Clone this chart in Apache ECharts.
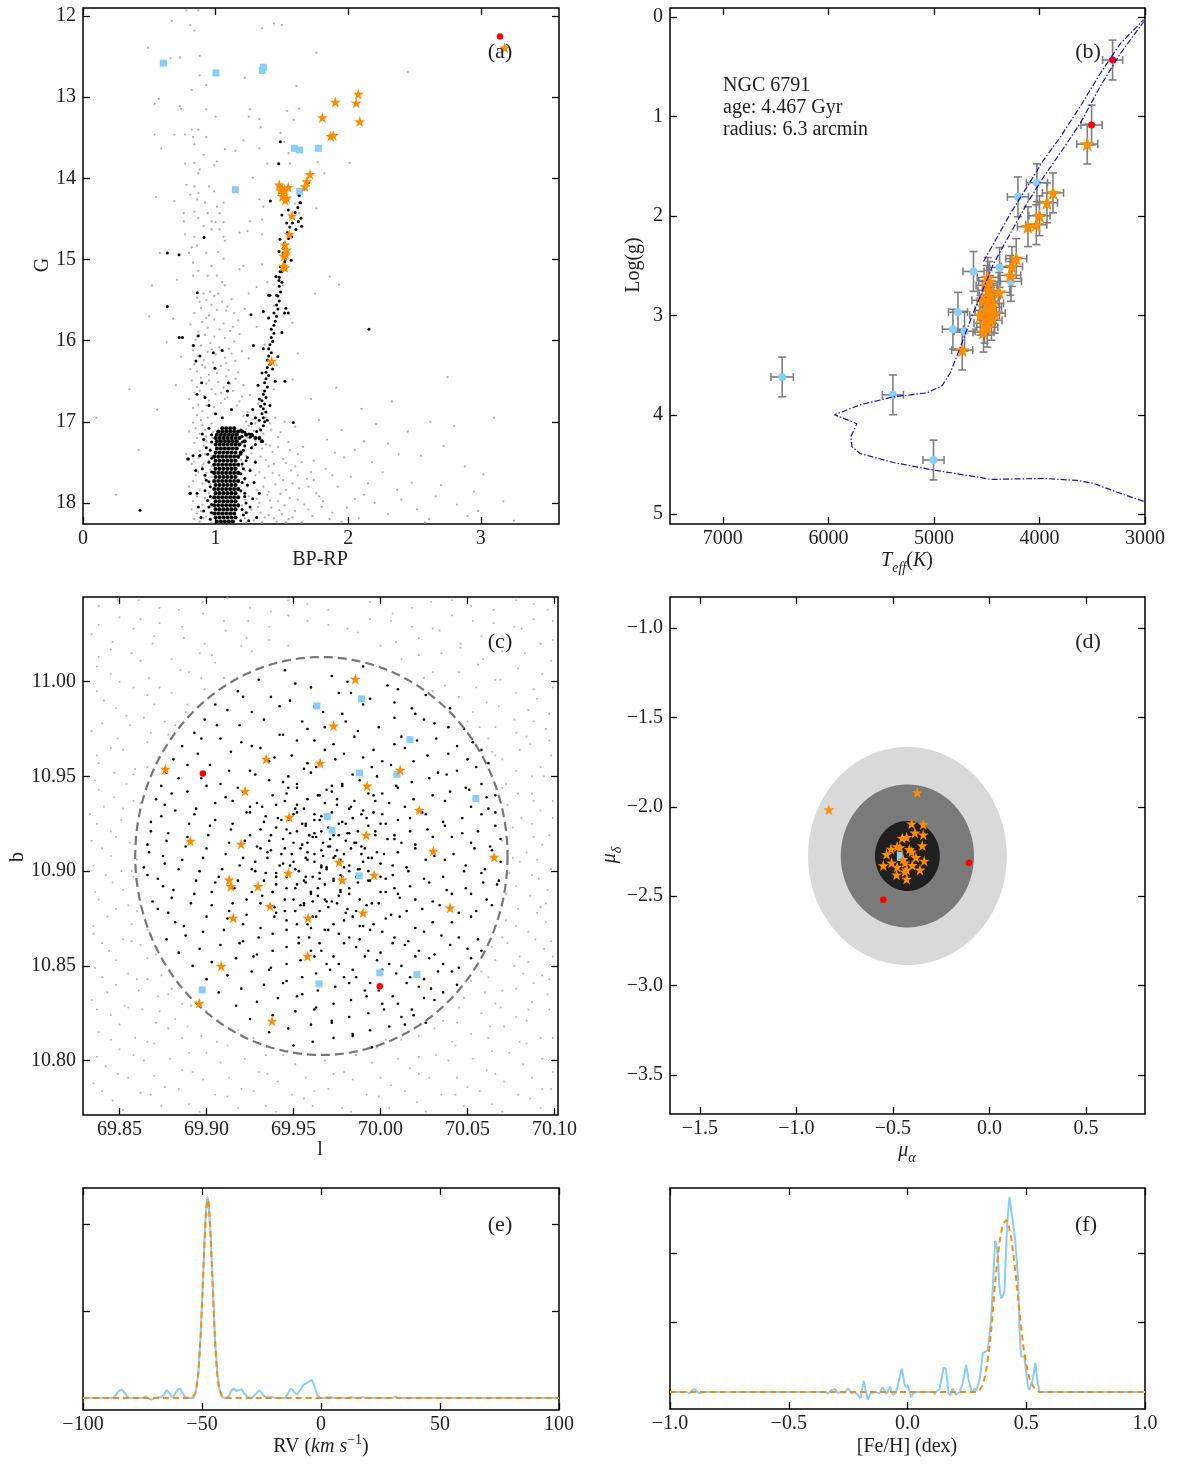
<!DOCTYPE html>
<html><head><meta charset="utf-8">
<script src="https://cdn.jsdelivr.net/npm/echarts/dist/echarts.min.js"></script>
<style>html,body{margin:0;padding:0;background:#fff;}#chart{width:1177px;height:1467px;}</style>
</head><body><div id="chart"></div>
<script>
// ================= DATA =================
// (a) colour-magnitude diagram: field stars (flat x,G pairs)
const cmdField = [
0.78,11.93,0.87,11.93,0.67,12.06,0.81,12.11,0.84,12.18,1.35,12.15,1.44,12.09,1.50,12.11,0.49,12.39,0.88,12.49,0.73,12.51,0.66,12.52,1.76,12.45,0.93,12.85,0.88,12.73,1.22,12.76,1.61,12.86,2.45,12.69,0.82,12.91,0.57,13.02,0.54,13.08,0.73,13.11,0.74,13.14,0.93,13.15,1.26,13.15,1.54,13.17,1.63,13.14,1.00,13.24,1.25,13.24,1.33,13.27,1.59,13.28,1.34,13.37,0.87,13.40,0.54,13.46,0.69,13.46,0.77,13.46,0.83,13.49,0.93,13.49,0.82,13.40,1.21,13.53,1.49,13.44,1.52,13.55,0.59,13.63,0.84,13.58,1.07,13.64,1.15,13.66,1.33,13.63,1.55,13.69,0.91,13.71,0.84,13.81,0.77,13.82,0.88,13.89,1.01,13.79,0.99,13.84,0.87,13.94,1.28,13.99,1.39,13.82,1.56,13.82,1.77,13.80,2.01,13.81,1.82,13.94,0.78,14.08,0.84,14.10,0.95,14.10,0.99,14.16,0.87,14.18,0.81,14.20,0.55,14.23,0.69,14.28,0.86,14.26,0.92,14.30,1.06,14.30,1.01,14.35,1.33,14.26,1.36,14.35,1.60,14.31,1.76,14.37,0.76,14.43,0.84,14.41,0.94,14.43,1.03,14.43,0.87,14.49,0.76,14.53,0.97,14.53,1.00,14.54,1.06,14.54,1.26,14.53,1.35,14.51,1.63,14.43,0.91,14.59,0.97,14.63,1.03,14.63,0.77,14.69,0.84,14.72,1.06,14.72,1.07,14.77,1.18,14.67,1.24,14.65,1.35,14.69,0.82,14.85,0.86,14.83,0.58,14.92,0.80,14.92,0.93,14.92,1.02,14.91,1.06,14.99,1.21,15.08,1.18,15.12,1.35,15.06,0.83,15.04,0.87,15.14,0.97,15.08,1.01,15.20,0.94,15.20,0.83,15.20,0.71,15.25,0.52,15.32,1.05,15.28,1.07,15.32,1.39,15.28,1.51,15.32,1.31,15.34,1.86,15.21,1.93,15.31,0.91,15.42,0.96,15.40,1.02,15.42,1.25,15.42,1.75,15.42,
0.86,15.47,0.93,15.50,1.05,15.52,1.12,15.49,0.97,15.56,0.89,15.60,1.01,15.62,1.09,15.58,0.84,15.66,0.95,15.69,1.14,15.66,1.22,15.61,1.44,15.57,0.99,15.74,0.90,15.77,1.06,15.79,0.81,15.80,1.17,15.75,0.94,15.84,1.03,15.86,1.11,15.88,0.87,15.89,1.31,15.83,1.58,15.78,0.68,15.73,0.50,15.70,
0.92,15.93,0.99,15.95,1.07,15.97,0.85,15.99,1.14,16.01,0.96,16.03,0.89,16.06,1.03,16.08,1.10,16.10,0.83,16.12,0.94,16.14,1.20,16.13,1.00,16.17,0.87,16.19,1.07,16.21,0.91,16.24,1.15,16.25,0.98,16.27,0.84,16.29,1.04,16.31,1.25,16.22,1.37,16.05,1.46,16.30,1.62,16.16,0.74,16.20,0.63,16.02,0.92,16.33,1.10,16.36,0.86,16.38,1.01,16.40,
0.95,16.42,1.08,16.44,0.89,16.46,1.15,16.47,0.82,16.49,1.02,16.51,0.93,16.53,1.21,16.55,0.86,16.57,1.06,16.58,0.97,16.60,1.13,16.62,0.84,16.64,1.00,16.66,0.91,16.68,1.26,16.67,1.09,16.70,0.80,16.72,0.95,16.74,1.18,16.75,1.04,16.77,0.87,16.79,1.32,16.78,1.44,16.60,1.58,16.48,1.72,16.72,1.91,16.58,2.10,16.84,0.70,16.55,0.56,16.85,0.99,16.82,1.12,16.85,0.90,16.87,1.37,16.88,2.33,16.75,
0.86,16.92,0.94,16.95,1.21,16.93,1.28,16.97,1.45,16.95,1.52,17.00,0.83,17.01,0.90,17.04,1.25,17.05,1.33,17.08,1.41,17.02,1.60,17.06,1.78,16.98,1.95,17.10,2.21,17.03,2.45,17.12,2.62,17.00,0.80,17.12,0.88,17.15,0.93,17.18,1.19,17.17,1.24,17.20,1.30,17.23,1.38,17.28,1.47,17.19,1.55,17.25,1.66,17.31,1.84,17.22,2.05,17.35,2.30,17.27,2.72,17.30,0.84,17.26,0.91,17.30,0.96,17.33,1.21,17.36,1.27,17.39,1.34,17.43,1.43,17.37,1.51,17.46,1.62,17.40,1.74,17.48,1.97,17.44,2.18,17.50,2.55,17.42,2.88,17.55,0.78,17.40,0.87,17.45,0.95,17.48,1.19,17.47,
0.82,17.52,0.90,17.56,0.96,17.59,1.20,17.55,1.26,17.58,1.33,17.62,1.40,17.55,1.48,17.66,1.57,17.60,1.69,17.70,1.83,17.58,2.02,17.68,2.26,17.62,2.48,17.75,3.02,17.65,0.85,17.66,0.92,17.70,0.98,17.74,1.22,17.72,1.29,17.76,1.36,17.80,1.45,17.77,1.53,17.84,1.63,17.82,1.76,17.88,1.92,17.80,2.12,17.90,2.37,17.84,2.66,17.92,2.95,17.86,0.80,17.80,0.88,17.84,0.95,17.88,1.19,17.86,1.25,17.92,1.31,17.95,1.39,17.90,1.47,17.98,1.56,17.94,1.67,18.02,1.81,17.98,1.99,18.06,2.20,18.00,2.52,18.08,2.82,18.02,3.17,17.98,0.83,17.98,0.90,18.02,0.97,18.05,1.20,18.03,1.27,18.08,1.34,18.12,1.42,18.06,1.50,18.14,1.60,18.10,1.73,18.16,1.88,18.12,2.08,18.19,2.30,18.14,2.61,18.20,2.90,18.16,0.86,18.13,0.93,18.17,1.22,18.19,1.29,18.22,1.37,18.18,1.46,18.23,1.55,18.20,1.65,18.24,1.95,18.23,0.88,18.23,0.42,17.35,0.25,17.90,0.10,16.95,0.35,16.60,2.75,16.45,3.10,16.95,2.80,17.05,
0.88,15.52,0.99,15.45,1.08,15.63,0.93,15.72,1.13,15.83,0.86,15.95,1.18,15.92,0.97,16.11,1.12,16.16,0.90,16.30,1.08,16.28,0.81,16.35,1.17,16.39,0.95,16.49,1.11,16.53,0.88,16.62,1.04,16.64,1.20,16.69,0.93,16.80,1.07,16.72,0.83,16.83,1.16,16.80,1.24,16.88,
0.89,16.98,0.97,17.02,1.23,17.00,1.30,17.02,1.38,16.95,0.85,17.08,0.92,17.10,0.98,17.13,1.23,17.09,1.29,17.11,1.36,17.15,1.42,17.10,1.49,17.13,0.86,17.20,0.93,17.24,0.98,17.20,1.22,17.28,1.28,17.30,1.35,17.33,1.41,17.29,1.47,17.31,1.56,17.35,0.88,17.36,0.92,17.40,0.97,17.42,1.23,17.42,1.30,17.48,1.38,17.47,1.44,17.52,1.53,17.51,1.60,17.55,0.84,17.49,0.91,17.52,0.97,17.55,1.22,17.60,1.30,17.66,1.37,17.69,1.43,17.63,1.51,17.72,1.62,17.66,1.72,17.62,0.87,17.62,0.93,17.63,0.97,17.68,1.24,17.80,1.31,17.84,1.40,17.86,1.49,17.89,1.58,17.76,1.70,17.80,0.83,17.73,0.90,17.76,0.96,17.77,1.22,17.96,1.33,18.00,1.41,17.97,1.52,18.03,1.62,17.96,1.78,17.92,0.86,17.92,0.92,17.94,0.97,17.95,1.24,18.12,1.32,18.05,1.40,18.15,1.48,18.09,1.58,18.18,1.70,18.08,0.82,18.08,0.89,18.10,0.96,18.12,1.23,18.24,1.35,18.24,1.44,18.19,1.53,18.24,1.86,18.20,0.84,18.20,0.91,18.19,0.97,18.24,1.74,17.72,1.88,17.66,2.15,17.76,2.40,17.96,2.70,17.78,1.65,17.50,1.90,17.38,2.12,17.24,2.38,17.40,2.98,18.10,3.25,18.22,2.58,18.24,1.80,18.05,2.05,17.95
];
// (a) cluster members outside the dense main-sequence core (flat x,G pairs)
const cmdMembers = [
1.22,17.13,1.25,17.15,1.28,17.17,1.31,17.12,1.34,17.10,1.36,17.05,1.37,17.00,1.36,16.95,1.35,16.90,1.38,16.88,1.36,16.84,1.34,16.81,1.37,16.78,1.35,16.74,1.38,16.70,1.36,16.66,1.37,16.62,1.39,16.57,1.37,16.52,1.38,16.47,1.40,16.43,1.38,16.39,1.39,16.33,1.41,16.29,1.39,16.24,1.40,16.19,1.42,16.15,1.40,16.10,1.41,16.05,1.43,16.01,1.42,15.96,1.44,15.91,1.42,15.86,1.44,15.81,1.45,15.76,1.46,15.70,1.44,15.66,1.47,15.61,1.46,15.56,1.48,15.51,1.47,15.45,1.49,15.40,1.48,15.33,1.50,15.28,1.48,15.22,1.50,15.15,1.49,15.09,1.52,15.03,1.51,14.97,1.53,14.92,1.51,14.86,1.52,14.80,1.55,14.74,1.54,14.67,1.56,14.60,1.58,14.55,1.57,14.48,1.60,14.42,1.62,14.36,1.64,14.30,1.63,14.20,1.67,14.13,1.70,14.05,1.72,13.95,
1.19,17.10,1.26,17.19,1.33,17.21,1.30,16.95,1.27,17.02,1.33,16.98,1.24,16.92,1.28,16.85,1.32,16.55,1.45,16.50,1.43,16.35,1.47,16.20,1.36,16.10,1.50,15.90,1.40,15.72,1.53,15.60,1.35,16.40,1.33,16.72,1.41,16.80,1.39,16.98,
1.488,13.55,1.476,13.82,1.413,14.28,1.63,14.21,1.636,14.30,1.548,14.39,1.50,14.45,1.536,14.55,1.624,14.53,1.644,14.49,1.649,14.59,1.606,14.63,1.574,14.72,0.913,14.73,0.636,14.92,0.724,14.94,1.486,14.75,1.478,14.90,1.51,14.92,1.528,15.00,1.57,15.01,1.486,15.15,1.455,15.21,1.478,15.26,1.41,15.44,1.46,15.44,0.862,15.41,0.636,15.58,0.726,15.96,0.75,15.96,0.832,16.06,0.87,15.94,0.882,16.19,0.983,16.15,1.05,16.12,0.995,16.34,0.852,16.25,0.895,16.52,1.096,16.52,0.86,16.66,1.09,16.62,1.267,15.68,1.285,16.06,1.36,15.64,1.40,15.44,1.548,15.66,1.52,15.66,1.523,16.50,1.586,17.01,2.157,15.86,0.43,18.09,0.794,17.46,0.882,17.42,0.807,17.88,0.95,16.80,1.00,16.90,1.05,16.95,0.92,16.70,1.12,16.85,
0.90,17.15,0.93,17.32,0.95,17.50,0.92,17.66,0.96,17.80,0.94,17.97,0.91,18.10,0.96,18.20,0.88,17.42,0.86,17.88,1.21,17.35,1.20,17.52,1.22,17.70,1.19,17.85,1.23,18.00,1.21,18.15,1.26,17.60,1.28,17.95,1.31,18.18,0.79,17.46,0.81,17.88,0.83,17.42,0.95,17.08,0.97,17.25,0.97,17.62,0.95,17.74,0.97,18.02,1.20,17.25,1.24,17.44,1.19,17.64,1.22,17.92,1.20,18.08,1.25,18.22,
0.91,17.22,0.94,17.40,0.90,17.58,0.93,17.72,0.92,17.85,0.95,18.05,0.89,18.18,1.20,17.18,1.22,17.30,1.23,17.48,1.21,17.58,1.24,17.78,1.22,17.88,1.26,18.05,1.23,18.12,1.29,17.75,1.30,17.50,0.85,17.60,0.87,18.05,1.33,17.88,1.27,17.32,1.30,17.28,0.97,17.16,0.96,17.35,0.97,17.45,0.96,17.92,0.97,18.12,1.19,17.40,1.20,17.75,1.19,18.22
];
// (a) dense main-sequence core: each row = [G, x, x, ...]
const msRows = [
[17.08,1.05,1.08,1.11,1.14],
[17.12,1.02,1.05,1.08,1.11,1.14,1.17,1.20],
[17.16,1.01,1.04,1.07,1.10,1.13,1.16,1.23,1.27],
[17.20,1.00,1.03,1.06,1.09,1.12,1.15,1.18,1.30,1.33],
[17.24,1.01,1.04,1.07,1.10,1.13,1.16,1.22,1.35],
[17.28,1.00,1.03,1.06,1.09,1.12,1.15,1.18],
[17.33,1.01,1.04,1.07,1.10,1.13,1.16],
[17.38,1.00,1.03,1.06,1.09,1.12,1.15,1.19],
[17.43,0.99,1.02,1.05,1.08,1.11,1.14,1.17],
[17.48,1.00,1.03,1.06,1.09,1.12,1.15],
[17.53,0.99,1.02,1.05,1.08,1.11,1.14,1.17],
[17.58,1.00,1.03,1.06,1.09,1.12,1.15],
[17.63,0.99,1.02,1.05,1.08,1.11,1.14,1.17],
[17.68,1.00,1.03,1.06,1.09,1.12,1.15],
[17.73,0.99,1.02,1.05,1.08,1.11,1.14,1.17],
[17.78,1.00,1.03,1.06,1.09,1.12,1.15],
[17.83,0.99,1.02,1.05,1.08,1.11,1.14,1.17],
[17.88,1.00,1.03,1.06,1.09,1.12,1.15],
[17.93,0.99,1.02,1.05,1.08,1.11,1.14,1.17],
[17.98,1.00,1.03,1.06,1.09,1.12,1.15],
[18.03,0.99,1.02,1.05,1.08,1.11,1.14,1.17],
[18.08,1.00,1.03,1.06,1.09,1.12,1.15],
[18.13,0.99,1.02,1.05,1.08,1.11,1.14],
[18.18,1.00,1.03,1.06,1.09,1.12,1.15],
[18.23,1.01,1.04,1.07,1.10,1.13]
];
const cmdBlue = [[0.606,12.58],[1.003,12.70],[1.360,12.63],[1.352,12.67],[1.594,13.63],[1.634,13.65],[1.775,13.63],[1.149,14.14],[1.634,14.16]];
const cmdOrange = [[2.076,12.96],[1.903,13.06],[2.061,13.07],[2.087,13.30],[1.805,13.25],[1.888,13.47],[1.868,13.48],[1.712,13.95],[1.687,14.04],[1.674,14.10],[1.480,14.08],[1.498,14.12],[1.548,14.11],[1.510,14.18],[1.536,14.24],[1.490,14.15],[1.520,14.14],[1.505,14.22],[1.525,14.27],[1.578,14.46],[1.556,14.69],[1.523,14.82],[1.536,14.88],[1.516,14.96],[1.530,14.93],[1.510,15.08],[1.523,15.10],[1.423,16.25],[3.180,12.39]];
const cmdRed = [[3.145,12.25]];

// (b) Kiel diagram: [Teff, logg, errTeff, errLogg]
const hrBlue = [[6438,3.62,106,0.20],[5389,3.80,100,0.20],[5004,4.455,100,0.20],[4772,2.97,90,0.20],[4820,3.14,100,0.20],[4710,3.16,100,0.20],[4625,2.56,100,0.20],[4378,2.52,100,0.20],[4270,2.66,100,0.20],[4204,1.81,100,0.20],[4024,1.668,100,0.19]];
const hrOrange = [[3547,1.28,100,0.20],[3872,1.77,100,0.20],[3929,1.87,100,0.20],[4000,2.00,100,0.20],[4030,2.09,100,0.20],[4109,2.11,100,0.20],[4220,2.43,100,0.20],[4261,2.51,100,0.20],[4277,2.60,100,0.20],[4381,2.77,100,0.20],[4732,3.35,100,0.20],[4483,2.75,100,0.20],[4470,2.80,100,0.20],[4500,2.70,100,0.20],[4490,2.86,100,0.20],[4460,2.92,100,0.20],[4510,2.95,100,0.20],[4480,3.00,100,0.20],[4455,3.05,100,0.20],[4520,3.08,100,0.20],[4495,3.12,100,0.20],[4540,2.85,100,0.20],[4440,2.88,100,0.20],[4475,2.66,100,0.20],[4530,3.17,100,0.20],[4490,2.62,100,0.20],[4560,3.00,100,0.20],[4425,2.98,100,0.20]];
const hrRed = [[3307,0.435,95,0.20],[3506,1.088,100,0.20]];
const isoLower = [[3013,4.87],[3260,4.78],[3487,4.69],[3645,4.66],[3961,4.64],[4466,4.65],[4561,4.63],[5004,4.556],[5383,4.48],[5699,4.39],[5777,4.32],[5787,4.22],[5730,4.09],[5942,4.00],[5699,3.90],[5383,3.82],[5066,3.78],[4924,3.71],[4846,3.58],[4750,3.32],[4640,3.01],[4577,2.85],[4435,2.48],[4277,2.18],[4118,1.875],[3961,1.61],[3803,1.37],[3613,1.07],[3424,0.70],[3234,0.37],[3013,0.05]];
const isoUpper = [[4530,2.46],[4514,2.43],[4277,1.98],[4118,1.71],[3961,1.44],[3803,1.21],[3613,0.90],[3424,0.57],[3234,0.27],[3013,0.03]];
const ngcText = ['NGC 6791','age: 4.467 Gyr','radius: 6.3 arcmin'];

// (c) sky positions (flat l,b pairs)
const skyField = [
69.838,11.040,69.861,11.043,69.884,11.038,69.912,11.044,69.937,11.037,69.958,11.041,70.007,11.036,70.029,11.042,70.052,11.040,70.078,11.043,70.096,11.038,
69.850,11.034,69.873,11.031,69.898,11.036,69.924,11.032,69.947,11.035,69.970,11.030,69.994,11.033,70.018,11.029,70.041,11.035,70.065,11.031,70.088,11.033,
69.834,11.025,69.858,11.028,69.887,11.023,69.911,11.027,69.936,11.022,69.987,11.026,70.009,11.021,70.034,11.027,70.058,11.024,70.081,11.028,70.099,11.022,
69.845,11.017,69.869,11.020,69.896,11.015,69.920,11.019,70.022,11.014,70.046,11.018,70.070,11.016,70.092,11.020,
69.837,11.008,69.862,11.011,69.885,11.006,69.905,11.010,70.030,11.005,70.056,11.009,70.079,11.007,70.098,11.011,
69.850,11.000,69.873,10.997,69.897,11.002,70.037,10.998,70.066,11.001,70.088,10.996,
69.841,10.990,69.866,10.993,69.889,10.988,70.045,10.992,70.068,10.987,70.090,10.991,
69.854,10.982,69.876,10.979,70.053,10.984,70.077,10.980,70.097,10.983,
69.834,10.974,69.856,10.977,69.878,10.972,70.057,10.976,70.084,10.971,70.095,10.975,
69.845,10.965,69.866,10.968,70.064,10.963,70.086,10.967,
69.838,10.957,69.859,10.954,70.070,10.959,70.092,10.955,
69.836,10.948,69.858,10.951,70.072,10.946,70.094,10.950,
69.847,10.939,69.862,10.936,70.079,10.941,70.099,10.937,
69.833,10.930,69.852,10.933,70.081,10.928,70.092,10.932,
69.845,10.921,69.859,10.918,70.076,10.923,70.097,10.919,
69.840,10.912,69.856,10.915,70.084,10.910,70.093,10.914,
69.835,10.903,69.851,10.900,70.080,10.905,70.098,10.901,
69.846,10.894,69.858,10.897,70.078,10.892,70.091,10.896,
69.838,10.885,69.855,10.882,70.086,10.887,70.095,10.883,
69.843,10.876,69.860,10.879,70.072,10.874,70.090,10.878,
69.835,10.867,69.852,10.864,69.866,10.869,70.070,10.865,70.085,10.868,70.098,10.863,
69.844,10.858,69.862,10.861,69.871,10.856,70.064,10.860,70.080,10.855,70.094,10.859,
69.836,10.849,69.855,10.846,69.876,10.851,70.058,10.847,70.077,10.850,70.093,10.845,
69.848,10.840,69.866,10.843,69.880,10.838,70.052,10.842,70.070,10.837,70.088,10.841,
69.834,10.832,69.853,10.829,69.872,10.834,69.886,10.830,70.048,10.833,70.069,10.828,70.087,10.831,
69.845,10.824,69.863,10.827,69.882,10.822,69.900,10.826,70.036,10.821,70.058,10.825,70.078,10.823,70.097,10.827,
69.838,10.815,69.859,10.812,69.878,10.817,69.897,10.813,69.918,10.816,70.012,10.811,70.031,10.817,70.052,10.814,70.071,10.818,70.092,10.812,
69.850,10.806,69.870,10.809,69.890,10.804,69.912,10.808,69.934,10.803,69.998,10.807,70.022,10.802,70.043,10.808,70.064,10.805,70.084,10.809,
69.842,10.797,69.864,10.800,69.886,10.795,69.908,10.799,69.930,10.794,69.951,10.798,69.973,10.793,69.995,10.799,70.017,10.796,70.039,10.800,70.061,10.795,70.082,10.798,70.099,10.794,
69.835,10.788,69.855,10.791,69.876,10.786,69.898,10.790,69.920,10.785,69.941,10.789,69.962,10.784,69.984,10.790,70.006,10.787,70.028,10.791,70.050,10.786,70.071,10.789,70.093,10.785,
69.846,10.779,69.868,10.782,69.890,10.777,69.912,10.781,69.934,10.776,69.956,10.780,69.978,10.775,69.999,10.781,70.021,10.778,70.043,10.782,70.064,10.777,70.086,10.780,
69.849,11.043,69.873,11.039,69.898,11.042,69.925,11.039,69.947,11.043,69.970,11.038,69.994,11.042,70.018,11.039,70.041,11.043,70.065,11.038,70.088,11.041,
69.838,11.030,69.862,11.033,69.886,11.029,69.910,11.032,69.936,11.029,69.958,11.032,69.981,11.028,70.006,11.032,70.030,11.028,70.053,11.032,70.077,11.029,70.099,11.032,
69.846,11.021,69.870,11.024,69.899,11.020,69.923,11.023,69.947,11.019,70.000,11.019,70.022,11.023,70.046,11.020,70.070,11.024,70.092,11.020,
69.838,11.013,69.857,11.015,69.880,11.012,69.903,11.014,69.926,11.016,70.012,11.012,70.035,11.015,70.059,11.012,70.083,11.015,
69.845,11.004,69.867,11.002,69.890,11.005,69.910,11.002,70.025,11.002,70.045,11.005,70.069,11.001,70.093,11.004,
69.837,10.995,69.858,10.997,69.880,10.994,69.899,10.996,70.030,10.995,70.055,10.997,70.078,10.994,70.099,10.997,
69.848,10.986,69.870,10.988,69.888,10.984,70.040,10.986,70.061,10.989,70.085,10.985,
69.840,10.978,69.864,10.981,69.882,10.977,70.050,10.979,70.066,10.976,70.088,10.979,
69.849,10.970,69.868,10.973,70.062,10.970,70.078,10.973,70.097,10.969,
69.837,10.961,69.852,10.964,69.872,10.960,70.066,10.961,70.080,10.964,70.098,10.961,
69.847,10.952,69.866,10.955,70.078,10.953,70.087,10.950,
69.838,10.943,69.854,10.946,70.070,10.944,70.087,10.941,
69.841,10.934,69.858,10.937,70.073,10.935,70.088,10.937,
69.837,10.925,69.851,10.927,70.087,10.925,70.099,10.928,
69.834,10.916,69.848,10.918,70.070,10.916,70.088,10.918,
69.845,10.908,69.860,10.906,70.076,10.907,70.090,10.906,
69.842,10.898,69.857,10.900,70.074,10.899,70.087,10.898,
69.836,10.889,69.852,10.890,70.072,10.888,70.096,10.890,
69.848,10.880,69.862,10.882,70.079,10.880,70.092,10.881,
69.835,10.871,69.857,10.872,70.078,10.871,70.095,10.873,
69.840,10.862,69.857,10.863,70.073,10.862,70.089,10.864,
69.848,10.853,69.866,10.854,70.066,10.853,70.085,10.852,70.099,10.855,
69.840,10.844,69.860,10.843,69.874,10.845,70.062,10.844,70.082,10.846,70.097,10.843,
69.843,10.836,69.861,10.837,69.878,10.835,70.060,10.836,70.078,10.838,70.096,10.835,
69.837,10.827,69.855,10.828,69.873,10.826,69.891,10.829,70.045,10.828,70.066,10.830,70.085,10.827,
69.850,10.819,69.871,10.820,69.889,10.818,69.907,10.821,70.023,10.819,70.044,10.820,70.063,10.818,70.084,10.821,
69.845,10.811,69.866,10.810,69.886,10.812,69.906,10.810,69.927,10.812,70.003,10.811,70.022,10.813,70.041,10.810,70.062,10.812,70.080,10.810,70.099,10.812,
69.837,10.802,69.858,10.803,69.879,10.801,69.900,10.804,69.922,10.801,69.944,10.803,69.968,10.800,69.986,10.803,70.010,10.801,70.032,10.803,70.053,10.801,70.074,10.804,70.093,10.801,
69.849,10.793,69.870,10.792,69.892,10.794,69.913,10.791,69.935,10.793,69.957,10.791,69.979,10.794,70.000,10.791,70.022,10.793,70.044,10.791,70.066,10.793,70.087,10.791,
69.840,10.784,69.862,10.783,69.884,10.785,69.905,10.782,69.927,10.784,69.949,10.782,69.970,10.785,69.992,10.782,70.014,10.784,70.035,10.782,70.057,10.784,70.079,10.782,70.098,10.785,
69.852,10.774,69.874,10.776,69.896,10.773,69.918,10.775,69.940,10.773,69.961,10.776,69.983,10.773,70.005,10.775,70.026,10.773,70.048,10.776,70.070,10.773,70.092,10.775
];
const skyMembers = [
69.945,11.006,69.972,11.003,69.990,11.008,
69.918,10.995,69.951,10.999,69.983,10.994,70.004,10.998,
69.905,10.988,69.937,10.992,69.962,10.987,69.994,10.991,70.018,10.986,
69.899,10.980,69.926,10.984,69.955,10.979,69.978,10.983,70.008,10.981,70.031,10.978,
69.893,10.973,69.919,10.977,69.944,10.972,69.968,10.976,69.987,10.974,70.012,10.971,70.039,10.976,
69.886,10.966,69.908,10.970,69.931,10.965,69.952,10.969,69.973,10.967,69.996,10.964,70.021,10.969,70.044,10.966,
69.881,10.959,69.914,10.963,69.939,10.960,69.958,10.957,69.979,10.962,70.001,10.958,70.027,10.961,70.050,10.959,
69.877,10.952,69.902,10.956,69.925,10.953,69.947,10.950,69.963,10.955,69.984,10.951,70.006,10.956,70.033,10.952,70.055,10.955,
69.874,10.945,69.897,10.949,69.918,10.944,69.936,10.948,69.952,10.946,69.969,10.943,69.988,10.948,70.009,10.945,70.028,10.949,70.049,10.944,
69.871,10.938,69.889,10.942,69.911,10.939,69.929,10.936,69.946,10.941,69.958,10.938,69.972,10.942,69.985,10.937,70.001,10.941,70.019,10.938,70.040,10.942,70.061,10.939,
69.882,10.932,69.905,10.936,69.923,10.931,69.940,10.935,69.951,10.933,69.962,10.930,69.975,10.935,69.990,10.932,70.005,10.936,70.024,10.931,70.052,10.934,
69.868,10.926,69.893,10.930,69.915,10.925,69.934,10.929,69.947,10.927,69.957,10.924,69.966,10.929,69.978,10.926,69.989,10.930,70.003,10.925,70.017,10.928,70.036,10.926,70.058,10.930,
69.878,10.920,69.902,10.924,69.925,10.919,69.940,10.923,69.952,10.921,69.961,10.918,69.970,10.923,69.981,10.920,69.993,10.924,70.008,10.919,70.027,10.922,70.047,10.920,70.066,10.924,
69.866,10.914,69.889,10.918,69.913,10.915,69.931,10.912,69.944,10.917,69.955,10.914,69.963,10.918,69.971,10.913,69.980,10.916,69.991,10.912,70.004,10.917,70.020,10.914,70.041,10.918,70.063,10.913,
69.875,10.908,69.900,10.912,69.921,10.907,69.937,10.911,69.949,10.909,69.958,10.906,69.966,10.911,69.974,10.908,69.983,10.912,69.995,10.907,70.010,10.910,70.031,10.908,70.054,10.912,
69.864,10.902,69.886,10.906,69.909,10.901,69.928,10.905,69.942,10.903,69.953,10.900,69.962,10.905,69.969,10.902,69.977,10.906,69.987,10.901,70.000,10.904,70.015,10.902,70.037,10.906,70.060,10.901,
69.872,10.896,69.896,10.900,69.918,10.895,69.934,10.899,69.946,10.897,69.957,10.894,69.965,10.899,69.973,10.896,69.982,10.900,69.993,10.895,70.007,10.898,70.025,10.896,70.048,10.900,70.068,10.895,
69.881,10.890,69.905,10.894,69.926,10.889,69.940,10.893,69.951,10.891,69.960,10.888,69.968,10.893,69.977,10.890,69.987,10.894,70.000,10.889,70.017,10.892,70.038,10.890,70.059,10.894,
69.869,10.884,69.893,10.888,69.915,10.883,69.932,10.887,69.945,10.885,69.956,10.882,69.964,10.887,69.972,10.884,69.982,10.888,69.995,10.883,70.011,10.886,70.030,10.884,70.052,10.888,
69.878,10.878,69.903,10.882,69.923,10.877,69.939,10.881,69.951,10.879,69.961,10.876,69.970,10.881,69.980,10.878,69.992,10.882,70.006,10.877,70.024,10.880,70.045,10.878,70.064,10.882,
69.887,10.871,69.912,10.875,69.931,10.870,69.946,10.874,69.958,10.872,69.968,10.869,69.979,10.874,69.990,10.871,70.003,10.875,70.020,10.870,70.041,10.873,
69.877,10.864,69.898,10.868,69.921,10.863,69.938,10.867,69.953,10.865,69.965,10.862,69.976,10.867,69.988,10.864,70.001,10.868,70.016,10.863,70.035,10.866,70.056,10.864,
69.884,10.857,69.908,10.861,69.929,10.856,69.946,10.860,69.960,10.858,69.973,10.855,69.986,10.860,70.000,10.857,70.014,10.861,70.031,10.856,70.050,10.859,
69.892,10.850,69.917,10.854,69.937,10.849,69.954,10.853,69.969,10.851,69.984,10.848,69.998,10.853,70.012,10.850,70.028,10.854,70.045,10.849,
69.900,10.843,69.926,10.847,69.946,10.842,69.963,10.846,69.979,10.844,69.994,10.841,70.009,10.846,70.025,10.843,70.041,10.847,
69.907,10.836,69.933,10.840,69.955,10.835,69.974,10.839,69.991,10.837,70.007,10.834,70.022,10.839,70.036,10.836,
69.917,10.829,69.941,10.833,69.963,10.828,69.983,10.832,70.001,10.830,70.018,10.827,70.031,10.832,
69.925,10.822,69.951,10.826,69.972,10.821,69.993,10.825,70.012,10.823,70.026,10.820,
69.936,10.815,69.960,10.819,69.984,10.814,70.005,10.818,
69.950,10.808,69.973,10.812,69.995,10.807,
69.958,10.915,69.973,10.919,69.950,10.905,69.979,10.902,69.965,10.896,69.955,10.925,69.985,10.915,69.945,10.912,69.970,10.930,69.990,10.905,69.960,10.889,69.976,10.887,69.940,10.899,69.997,10.921,69.952,10.935,69.983,10.934,69.967,10.908,69.962,10.920,69.975,10.911,69.948,10.920,69.957,10.897,69.986,10.897,69.969,10.884,69.935,10.910,69.998,10.910,69.943,10.927,69.964,10.940,69.980,10.925,69.992,10.928,69.954,10.882,69.981,10.880,69.938,10.889,70.003,10.896,69.931,10.922,69.972,10.945,69.947,10.944,69.996,10.940,69.960,10.870,69.988,10.871,69.928,10.900,70.008,10.917,69.925,10.934,69.940,10.878,70.010,10.888,69.965,10.927,69.977,10.898,69.952,10.893,69.989,10.909,69.944,10.904,69.971,10.917,69.958,10.910,69.982,10.920,69.966,10.902,69.950,10.930,69.993,10.900,69.936,10.916,69.975,10.938,69.961,10.884,70.001,10.930,69.930,10.892,
69.930,11.001,69.960,10.997,69.981,11.000,70.010,10.996,
69.921,10.992,69.948,10.990,69.976,10.994,70.008,10.989,70.026,10.993,
69.912,10.985,69.942,10.987,69.967,10.984,69.990,10.988,70.020,10.983,70.040,10.986,
69.906,10.977,69.933,10.980,69.958,10.975,69.980,10.979,69.999,10.976,70.025,10.980,70.048,10.975,
69.897,10.970,69.920,10.968,69.942,10.972,69.962,10.969,69.985,10.971,70.008,10.967,70.032,10.970,70.053,10.968,
69.895,10.962,69.926,10.966,69.949,10.961,69.968,10.964,69.990,10.960,70.014,10.965,70.039,10.962,70.058,10.964,
69.889,10.956,69.913,10.953,69.936,10.958,69.956,10.954,69.974,10.959,69.995,10.955,70.019,10.958,70.044,10.953,70.062,10.957,
69.884,10.949,69.908,10.946,69.928,10.951,69.944,10.947,69.960,10.952,69.978,10.946,69.998,10.950,70.018,10.947,70.038,10.951,70.058,10.946,
69.880,10.941,69.900,10.945,69.921,10.942,69.938,10.940,69.952,10.944,69.965,10.940,69.978,10.945,69.993,10.941,70.010,10.944,70.030,10.940,70.051,10.943,70.066,10.940,
69.876,10.935,69.894,10.933,69.915,10.937,69.932,10.934,69.945,10.937,69.956,10.933,69.968,10.936,69.982,10.933,69.997,10.937,70.014,10.934,70.037,10.937,70.062,10.933,
69.874,10.929,69.905,10.927,69.925,10.931,69.941,10.928,69.952,10.931,69.962,10.927,69.972,10.931,69.984,10.928,69.996,10.931,70.010,10.927,70.026,10.930,70.047,10.928,70.066,10.931,
69.868,10.921,69.890,10.925,69.914,10.922,69.933,10.926,69.946,10.922,69.957,10.925,69.966,10.921,69.976,10.925,69.987,10.921,70.000,10.925,70.017,10.921,70.037,10.924,70.056,10.921,
69.877,10.916,69.901,10.919,69.922,10.916,69.937,10.919,69.950,10.915,69.959,10.919,69.967,10.915,69.976,10.919,69.986,10.915,69.997,10.919,70.012,10.915,70.030,10.918,70.052,10.915,70.069,10.917,
69.867,10.910,69.888,10.913,69.911,10.909,69.929,10.913,69.943,10.909,69.954,10.912,69.962,10.909,69.970,10.913,69.979,10.909,69.989,10.913,70.002,10.909,70.020,10.912,70.042,10.909,70.064,10.911,
69.876,10.904,69.898,10.907,69.919,10.903,69.935,10.907,69.948,10.903,69.957,10.907,69.966,10.903,69.973,10.907,69.982,10.903,69.993,10.907,70.007,10.903,70.026,10.906,70.049,10.903,70.069,10.905,
69.866,10.898,69.884,10.901,69.907,10.897,69.926,10.901,69.940,10.897,69.951,10.901,69.961,10.897,69.969,10.901,69.978,10.897,69.988,10.901,70.000,10.897,70.016,10.900,70.036,10.897,70.058,10.899,
69.875,10.892,69.894,10.895,69.916,10.891,69.933,10.895,69.946,10.891,69.956,10.895,69.964,10.891,69.973,10.895,69.982,10.891,69.994,10.895,70.008,10.891,70.028,10.894,70.049,10.891,70.067,10.893,
69.880,10.886,69.903,10.889,69.923,10.885,69.938,10.889,69.950,10.885,69.960,10.889,69.968,10.885,69.977,10.889,69.988,10.885,70.003,10.889,70.020,10.885,70.041,10.888,70.061,10.885,
69.872,10.880,69.891,10.883,69.913,10.879,69.931,10.883,69.945,10.879,69.956,10.883,69.965,10.879,69.975,10.883,69.986,10.879,69.999,10.883,70.015,10.879,70.034,10.882,70.055,10.879,
69.882,10.873,69.900,10.876,69.921,10.872,69.939,10.876,69.952,10.872,69.963,10.876,69.973,10.872,69.984,10.876,69.996,10.872,70.011,10.876,70.030,10.873,70.052,10.876,
69.888,10.866,69.910,10.869,69.930,10.865,69.946,10.869,69.959,10.865,69.970,10.869,69.982,10.865,69.994,10.869,70.008,10.865,70.025,10.868,70.045,10.865,
69.896,10.859,69.919,10.862,69.938,10.858,69.953,10.862,69.966,10.858,69.979,10.862,69.993,10.858,70.007,10.862,70.022,10.858,70.040,10.861,70.058,10.858,
69.903,10.852,69.927,10.855,69.946,10.851,69.962,10.855,69.976,10.851,69.991,10.855,70.005,10.851,70.020,10.855,70.036,10.851,70.052,10.854,
69.912,10.845,69.936,10.848,69.955,10.844,69.971,10.848,69.986,10.844,70.001,10.848,70.017,10.844,70.033,10.847,
69.920,10.838,69.944,10.841,69.964,10.837,69.982,10.841,69.999,10.837,70.015,10.841,70.029,10.838,70.044,10.840,
69.929,10.831,69.952,10.834,69.973,10.830,69.992,10.834,70.010,10.830,70.025,10.833,
69.938,10.824,69.962,10.827,69.982,10.823,70.002,10.827,70.019,10.824,
69.947,10.817,69.972,10.820,69.994,10.816,70.014,10.819,
69.961,10.810,69.984,10.813
];
const skyBlue = [[69.9634,10.9872],[69.9891,10.9909],[70.0169,10.9694],[69.9879,10.9518],[70.0094,10.9511],[70.0548,10.9383],[69.9694,10.9288],[69.9721,10.9216],[69.9877,10.8975],[69.9996,10.8463],[70.0209,10.8454],[69.9646,10.8405],[69.8975,10.8373]];
const skyOrange = [[69.9855,11.0014],[69.973,10.9767],[69.9343,10.9592],[69.9653,10.957],[69.8763,10.9539],[70.0113,10.9534],[69.9923,10.945],[69.9222,10.9423],[70.0222,10.9323],[69.9475,10.9286],[69.8907,10.9159],[69.9199,10.9143],[69.9918,10.919],[70.0303,10.9106],[70.0653,10.9074],[69.9762,10.9048],[69.947,10.899],[69.9963,10.898],[69.913,10.8954],[69.914,10.892],[69.978,10.8954],[69.9296,10.892],[69.9365,10.8815],[70.04,10.8806],[69.9584,10.8753],[69.99,10.878],[69.9153,10.8753],[69.958,10.8552],[69.9084,10.8499],[69.8958,10.8304],[69.9377,10.8209]];
const skyRed = [[69.8979,10.9515],[69.9996,10.8393]];
const clusterCircle = [69.966, 10.908, 0.107, 0.105]; // l0, b0, radius in l, radius in b

// (d) proper motions
const pmOrange = [[-0.832,-2.016],[-0.374,-1.920],[-0.403,-2.095],[-0.343,-2.099],[-0.386,-2.146],[-0.343,-2.156],[-0.452,-2.175],[-0.429,-2.171],[-0.348,-2.217],[-0.510,-2.236],[-0.478,-2.222],[-0.464,-2.228],[-0.415,-2.238],[-0.533,-2.266],[-0.403,-2.252],[-0.381,-2.283],[-0.447,-2.293],[-0.338,-2.303],[-0.507,-2.313],[-0.438,-2.313],[-0.550,-2.329],[-0.478,-2.337],[-0.400,-2.327],[-0.429,-2.353],[-0.360,-2.353],[-0.481,-2.380],[-0.438,-2.364],[-0.429,-2.404]];
const pmBlue = [[-0.464,-2.278]];
const pmRed = [[-0.106,-2.313],[-0.550,-2.520]];
const pmCenter = [-0.425,-2.275];
const pmSigma = [[0.515,0.61],[0.345,0.40],[0.168,0.196]]; // 3, 2, 1 sigma (x, y)

// (e) radial velocity distribution
const rvKde = [[-100,0],[-87.5,0],[-86.3,0.03],[-85,0.08],[-83.7,0.10],[-82.5,0.06],[-81.2,0.01],[-80,0],[-75,0],[-73.8,0.02],[-72.6,0],[-71.2,-0.02],[-70,0],[-68.4,0.01],[-67,0.01],[-66,0.04],[-64.8,0.09],[-63.6,0.05],[-62.4,0.01],[-61.5,0.04],[-60.4,0.09],[-59.3,0.11],[-58.2,0.06],[-57,0.01],[-55.5,0],[-53.5,0],[-52.5,0.08],[-51.5,0.30],[-50.5,0.76],[-49.5,1.43],[-48.5,2.07],[-47.8,2.31],[-47.3,2.27],[-46.5,1.95],[-45.5,1.31],[-44.5,0.66],[-43.5,0.26],[-42.5,0.07],[-41.5,0.01],[-40,0],[-38.7,0.02],[-37.6,0.09],[-36.7,0.11],[-35.6,0.08],[-34.4,0.09],[-33.3,0.10],[-32.2,0.05],[-31,0.01],[-29,0],[-27.3,0.05],[-25.9,0.09],[-24.7,0.05],[-23.5,0.01],[-22,0.01],[-20.5,0.01],[-19,0],[-15,0],[-13.8,0.06],[-12.6,0.11],[-11.2,0.07],[-10,0.04],[-8.8,0.09],[-7.4,0.15],[-5.5,0.18],[-3.8,0.21],[-2.6,0.12],[-1.4,0.02],[0,0],[1.5,0],[2.8,0.01],[4.2,0.01],[5.5,0],[11,0],[12.5,0.01],[14,0],[16,0],[17.5,0.01],[19,0],[30,0],[31.2,0.02],[32.5,0],[100,0]];
const rvFit = [[-100,0],[-56,0],[-54,0.01],[-53,0.05],[-52.5,0.10],[-52,0.18],[-51.5,0.31],[-51,0.50],[-50.5,0.75],[-50,1.07],[-49.5,1.42],[-49,1.76],[-48.5,2.05],[-48,2.23],[-47.6,2.28],[-47.2,2.25],[-46.5,1.94],[-46,1.63],[-45.5,1.29],[-45,0.94],[-44.5,0.64],[-44,0.41],[-43.5,0.25],[-43,0.14],[-42,0.04],[-41,0.01],[-40,0],[100,0]];

// (f) metallicity distribution
const fehKde = [[-1,0],[-0.93,0],[-0.916,-0.02],[-0.905,0.03],[-0.895,0.04],[-0.885,0.0],[-0.874,-0.02],[-0.86,0],[-0.345,0],[-0.335,-0.02],[-0.32,0.03],[-0.305,0.04],[-0.295,-0.01],[-0.28,0.0],[-0.265,-0.01],[-0.25,0.05],[-0.236,-0.02],[-0.222,0.0],[-0.205,-0.06],[-0.198,-0.09],[-0.184,0.16],[-0.175,0.0],[-0.167,-0.11],[-0.155,-0.02],[-0.135,0.0],[-0.118,-0.02],[-0.104,0.07],[-0.09,-0.03],[-0.083,0.0],[-0.073,0.08],[-0.062,-0.04],[-0.05,-0.02],[-0.04,0.1],[-0.024,0.34],[-0.013,0.12],[-0.006,0.07],[0.001,0.10],[0.015,-0.07],[0.025,-0.02],[0.037,0],[0.11,0],[0.113,-0.03],[0.125,0.02],[0.134,0.03],[0.152,0.35],[0.162,0.33],[0.173,-0.02],[0.18,-0.05],[0.19,0.05],[0.2,0],[0.205,-0.04],[0.22,0.0],[0.232,0.12],[0.247,0.39],[0.257,0.18],[0.268,0.03],[0.275,-0.01],[0.282,0.05],[0.29,0.02],[0.296,0],[0.305,0.2],[0.317,0.56],[0.338,0.60],[0.352,1.04],[0.362,1.70],[0.369,2.18],[0.375,2.12],[0.38,1.98],[0.387,1.52],[0.394,1.35],[0.401,1.38],[0.408,1.44],[0.419,2.39],[0.429,2.81],[0.436,2.63],[0.443,2.48],[0.454,2.17],[0.461,2.17],[0.466,1.60],[0.471,0.94],[0.478,0.51],[0.485,0.50],[0.492,0.51],[0.50,0.28],[0.507,0.08],[0.513,0.03],[0.52,0.05],[0.527,0.17],[0.538,0.42],[0.546,0.2],[0.555,0],[1,0]];
const fehFit = [[-1,0],[0.29,0],[0.30,0.01],[0.317,0.10],[0.33,0.28],[0.345,0.65],[0.355,0.98],[0.366,1.47],[0.377,1.85],[0.387,2.15],[0.40,2.40],[0.415,2.48],[0.425,2.42],[0.436,2.24],[0.447,1.95],[0.458,1.62],[0.468,1.27],[0.478,0.95],[0.49,0.60],[0.50,0.40],[0.513,0.20],[0.527,0.09],[0.54,0.03],[0.555,0],[1,0]];

// tick values
const ticksAx=[0,1,2,3], ticksAy=[12,13,14,15,16,17,18];
const ticksBx=[3000,4000,5000,6000,7000], ticksBy=[0,1,2,3,4,5];
const ticksCx=[69.85,69.90,69.95,70.00,70.05,70.10], ticksCy=[10.80,10.85,10.90,10.95,11.00];
const ticksDx=[-1.5,-1.0,-0.5,0.0,0.5], ticksDy=[-3.5,-3.0,-2.5,-2.0,-1.5,-1.0];
const ticksEx=[-100,-50,0,50,100], ticksEy=[1,2];
const ticksFx=[-1.0,-0.5,0.0,0.5,1.0], ticksFy=[1,2];

// ================= CHART =================
const FONT = '"Liberation Serif","DejaVu Serif",serif';
const TXT = '#222';
const ORANGE='#ff8c00', LBLUE='#87cefa', RED='#ff0000';
const STAR='path://M50,2 L61.8,37.6 L99,37.6 L68.9,59.6 L80.4,95 L50,73.1 L19.6,95 L31.1,59.6 L1,37.6 L38.2,37.6 Z';
const fmt=(v,d)=>{const s=Math.abs(v).toFixed(d); return (v<0 && Number(s)!==0?'\u2212':'')+s;};
const pairs=f=>{const o=[];for(let i=0;i<f.length;i+=2)o.push([f[i],f[i+1]]);return o;};
const msPoints=[]; msRows.forEach(r=>{for(let k=1;k<r.length;k++) msPoints.push([r[k],r[0]]);});

const grids=[
 {left:83,top:8,width:476,height:516},
 {left:670,top:8,width:475,height:516},
 {left:83,top:597,width:475,height:518},
 {left:670,top:597,width:475,height:517},
 {left:83,top:1188,width:476,height:222},
 {left:670,top:1188,width:475,height:221}
].map(g=>Object.assign({show:true,borderColor:'#000',borderWidth:1.5,backgroundColor:'transparent',containLabel:false},g));

const specs=[
 {x:{min:0,max:3.59,ticks:ticksAx,dec:0},y:{min:11.9,max:18.26,ticks:ticksAy,dec:0,inv:true}},
 {x:{min:3000,max:7501,ticks:ticksBx,dec:0,inv:true},y:{min:-0.088,max:5.098,ticks:ticksBy,dec:0,inv:true}},
 {x:{min:69.829,max:70.102,ticks:ticksCx,dec:2},y:{min:10.7713,max:11.0447,ticks:ticksCy,dec:2}},
 {x:{min:-1.655,max:0.806,ticks:ticksDx,dec:1},y:{min:-3.718,max:-0.827,ticks:ticksDy,dec:1}},
 {x:{min:-100,max:100,ticks:ticksEx,dec:0},y:{min:-0.138,max:2.414,ticks:ticksEy,dec:0,nolab:true}},
 {x:{min:-1,max:1,ticks:ticksFx,dec:1},y:{min:-0.245,max:2.94,ticks:ticksFy,dec:0,nolab:true}}
];
function axis(gi,s,pos,main){
 return {type:'value',gridIndex:gi,position:pos,min:s.min,max:s.max,inverse:!!s.inv,
  axisLine:{show:false,onZero:false},splitLine:{show:false},splitArea:{show:false},
  axisTick:{show:true,inside:true,length:7,lineStyle:{color:'#000',width:1.3},customValues:s.ticks},
  axisLabel:{show:main&&!s.nolab,customValues:s.ticks,margin:(pos==='bottom'?5:7),color:TXT,fontFamily:FONT,fontSize:20,formatter:v=>fmt(v,s.dec)}};
}
const xAxes=[],yAxes=[];
specs.forEach((s,gi)=>{
 xAxes.push(axis(gi,s.x,'bottom',true)); xAxes.push(axis(gi,s.x,'top',false));
 yAxes.push(axis(gi,s.y,'left',true)); yAxes.push(axis(gi,s.y,'right',false));
});
const ax=gi=>({xAxisIndex:2*gi,yAxisIndex:2*gi});
function sc(gi,data,symbol,size,color,extra){
 return Object.assign({type:'scatter',data,symbol,symbolSize:size,itemStyle:{color,opacity:1},silent:true,animation:false,large:false},ax(gi),extra||{});
}
function ellipsePts(api,cx,cy,rx,ry){
 const c=api.coord([cx,cy]),ex=api.coord([cx+rx,cy]),ey=api.coord([cx,cy+ry]);
 const RX=Math.abs(ex[0]-c[0]),RY=Math.abs(ey[1]-c[1]);const pts=[];
 for(let k=0;k<=160;k++){const t=k/160*2*Math.PI;pts.push([c[0]+RX*Math.cos(t),c[1]+RY*Math.sin(t)]);}
 return pts;
}
const hrAll=hrBlue.concat(hrOrange,hrRed);
const errSeries=Object.assign({type:'custom',data:hrAll,encode:{x:0,y:1},silent:true,animation:false,
 renderItem:(p,api)=>{
  const x=api.value(0),y=api.value(1),ex=api.value(2),ey=api.value(3);
  const c=api.coord([x,y]),l=api.coord([x-ex,y]),r=api.coord([x+ex,y]),t=api.coord([x,y-ey]),b=api.coord([x,y+ey]);
  const st={stroke:'#7f7f7f',lineWidth:1.6};const cap=4;
  const L=(x1,y1,x2,y2)=>({type:'line',shape:{x1,y1,x2,y2},style:st});
  return {type:'group',children:[L(l[0],c[1],r[0],c[1]),L(c[0],t[1],c[0],b[1]),
   L(l[0],c[1]-cap,l[0],c[1]+cap),L(r[0],c[1]-cap,r[0],c[1]+cap),
   L(c[0]-cap,t[1],c[0]+cap,t[1]),L(c[0]-cap,b[1],c[0]+cap,b[1])]};
 }},ax(1));
const diskColors=['#d9d9d9','#7a7a7a','#1f1f1f'];
const diskSeries=Object.assign({type:'custom',data:pmSigma.map(s=>[pmCenter[0],pmCenter[1],s[0],s[1]]),encode:{x:0,y:1},silent:true,animation:false,
 renderItem:(p,api)=>({type:'polygon',shape:{points:ellipsePts(api,api.value(0),api.value(1),api.value(2),api.value(3))},style:{fill:diskColors[p.dataIndex]}})},ax(3));
const circleSeries=Object.assign({type:'custom',data:[clusterCircle],encode:{x:0,y:1},silent:true,animation:false,z:3,
 renderItem:(p,api)=>({type:'polyline',shape:{points:ellipsePts(api,api.value(0),api.value(1),api.value(2),api.value(3))},style:{stroke:'#777',lineWidth:2.2,lineDash:[9,5],fill:null}})},ax(2));
function ln(gi,data,color,type,width){
 return Object.assign({type:'line',data,symbol:'none',silent:true,animation:false,lineStyle:{color,width,type}},ax(gi));
}

const series=[
 // (a)
 sc(0,pairs(cmdField),'circle',2.3,'#b0b0b0'),
 sc(0,msPoints,'circle',4.1,'#000'),
 sc(0,pairs(cmdMembers),'circle',3,'#000'),
 sc(0,cmdBlue,'rect',7,LBLUE),
 sc(0,cmdOrange,STAR,11,ORANGE),
 sc(0,cmdRed,'circle',6.5,RED),
 // (b)
 errSeries,
 ln(1,isoLower,'#1010d0',[6,2,1.5,2],1.2),
 ln(1,isoUpper,'#1010d0',[6,2,1.5,2],1.2),
 sc(1,hrBlue.map(d=>[d[0],d[1]]),'circle',8,LBLUE),
 sc(1,hrOrange.map(d=>[d[0],d[1]]),STAR,15,ORANGE),
 sc(1,hrRed.map(d=>[d[0],d[1]]),'circle',7,RED),
 // (c)
 sc(2,pairs(skyField),'circle',2.1,'#b8b8b8'),
 sc(2,pairs(skyMembers),'circle',2.6,'#000'),
 circleSeries,
 sc(2,skyBlue,'rect',7,LBLUE,{z:4}),
 sc(2,skyOrange,STAR,11,ORANGE,{z:4}),
 sc(2,skyRed,'circle',6.5,RED,{z:4}),
 // (d)
 diskSeries,
 sc(3,pmBlue,'rect',[6,9],LBLUE,{z:3}),
 sc(3,pmOrange,STAR,11,ORANGE,{z:4}),
 sc(3,pmRed,'circle',6.5,RED,{z:4}),
 // (e)
 ln(4,rvKde,LBLUE,'solid',2),
 ln(4,rvFit,ORANGE,[6,4],2),
 // (f)
 ln(5,fehKde,LBLUE,'solid',2),
 ln(5,fehFit,ORANGE,[6,4],2)
];

function T(text,x,y,o){o=o||{};
 const st={text,fill:TXT,fontFamily:FONT,fontSize:o.size||20,align:o.align||'center',verticalAlign:o.va||'middle',textAlign:o.align||'center',textVerticalAlign:o.va||'middle'};
 if(o.rich) st.rich=o.rich; if(o.lineHeight) st.lineHeight=o.lineHeight;
 return {type:'text',x,y,rotation:o.rot||0,z:100,silent:true,style:st};
}
const R=(size,extra)=>Object.assign({fontFamily:FONT,fontSize:size,fill:TXT,color:TXT},extra||{});
const richMath={
 n:R(20,{lineHeight:28}), i:R(20,{fontStyle:'italic',lineHeight:28}),
 s:R(14,{fontStyle:'italic',verticalAlign:'bottom',lineHeight:14}),
 p:R(14,{verticalAlign:'top',lineHeight:14})
};
const graphics=[
 T('(a)',500,52,{size:22}),T('(b)',1088,52,{size:22}),T('(c)',500,642,{size:22}),
 T('(d)',1088,642,{size:22}),T('(e)',500,1225,{size:22}),T('(f)',1086,1225,{size:22}),
 T('BP-RP',320,560),T('G',43,265,{rot:Math.PI/2}),
 T('Log(g)',634,265,{rot:Math.PI/2}),
 T('{i|T}{s|eff}{n|(}{i|K}{n|)}',907,561,{rich:richMath}),
 T('b',18,857,{rot:Math.PI/2}),T('l',320,1150),
 T('{i|μ}{s|δ}',610,855,{rot:Math.PI/2,rich:richMath}),
 T('{i|μ}{s|α}',907,1151,{rich:richMath}),
 T('{n|RV (}{i|km s}{p|−1}{n|)}',321,1447,{rich:richMath}),
 T('[Fe/H] (dex)',907,1447),
 T(ngcText.join('\n'),723,75,{align:'left',va:'top',lineHeight:22,size:20})
];

const chart=echarts.init(document.getElementById('chart'),null,{renderer:'canvas'});
chart.setOption({animation:false,backgroundColor:'#fff',grid:grids,xAxis:xAxes,yAxis:yAxes,series,graphic:graphics});
</script></body></html>
